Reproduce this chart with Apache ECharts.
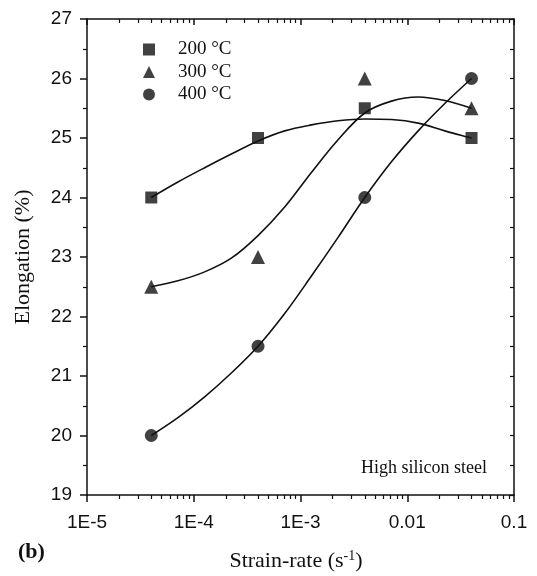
<!DOCTYPE html>
<html>
<head>
<meta charset="utf-8">
<script src="https://cdn.jsdelivr.net/npm/echarts@6/dist/echarts.min.js"></script>
<style>
  html, body { margin: 0; padding: 0; background: #fff; }
  #chart { width: 537px; height: 576px; }
</style>
</head>
<body>
<div id="chart"></div>
<script>
// ---- data ----
const strainRates = [4e-5, 4e-4, 4e-3, 4e-2];
const elong200 = [24.0, 25.0, 25.5, 25.0];
const elong300 = [22.5, 23.0, 26.0, 25.5];
const elong400 = [20.0, 21.5, 24.0, 26.0];

// fitted curves at quarter-decade steps
const fitX   = [4e-5, 7.11e-5, 1.265e-4, 2.249e-4, 4e-4, 7.11e-4, 1.265e-3, 2.249e-3, 4e-3, 7.11e-3, 1.265e-2, 2.249e-2, 4e-2];
const fit200 = [24.0, 24.26, 24.5, 24.73, 24.95, 25.12, 25.22, 25.29, 25.32, 25.31, 25.25, 25.12, 25.0];
const fit300 = [22.5, 22.6, 22.75, 22.98, 23.36, 23.84, 24.42, 24.97, 25.42, 25.62, 25.69, 25.63, 25.5];
const fit400 = [20.0, 20.3, 20.65, 21.05, 21.5, 22.05, 22.68, 23.33, 24.0, 24.6, 25.12, 25.58, 26.0];

const seriesNames = ['200 °C', '300 °C', '400 °C'];
const xMajorTicks = [1e-5, 1e-4, 1e-3, 1e-2, 1e-1];
const xTickLabels = ['1E-5', '1E-4', '1E-3', '0.01', '0.1'];
const xMinorTicks = [
  2e-5, 3e-5, 4e-5, 5e-5, 6e-5, 7e-5, 8e-5, 9e-5,
  2e-4, 3e-4, 4e-4, 5e-4, 6e-4, 7e-4, 8e-4, 9e-4,
  2e-3, 3e-3, 4e-3, 5e-3, 6e-3, 7e-3, 8e-3, 9e-3,
  2e-2, 3e-2, 4e-2, 5e-2, 6e-2, 7e-2, 8e-2, 9e-2
];
const yMin = 19, yMax = 27;

const pairs = (xs, ys) => xs.map((x, i) => [x, ys[i]]);
const INK = '#111';
const SANS = 'Liberation Sans, Arial, sans-serif';
const SERIF = 'Liberation Serif, Times New Roman, serif';

function xLabel(v) {
  for (let i = 0; i < xMajorTicks.length; i++) {
    if (Math.abs(Math.log10(v) - Math.log10(xMajorTicks[i])) < 1e-6) return xTickLabels[i];
  }
  return '';
}

const grid = { left: 87, right: 23, top: 19, bottom: 81 };
const baseLog = { type: 'log', logBase: 10, min: 1e-5, max: 0.1, gridIndex: 0, splitLine: { show: false } };

const chart = echarts.init(document.getElementById('chart'), null, { renderer: 'canvas' });
chart.setOption({
  animation: false,
  backgroundColor: '#fff',
  grid: grid,
  legend: {
    data: seriesNames,
    orient: 'vertical',
    left: 138, top: 35,
    itemWidth: 12, itemHeight: 12, itemGap: 3.5,
    textStyle: { fontFamily: SERIF, fontSize: 19, color: INK, padding: [0, 0, 0, 18] }
  },
  xAxis: [
    Object.assign({}, baseLog, {
      position: 'bottom',
      axisLine: { show: true, lineStyle: { color: INK, width: 1.5 } },
      axisTick: { show: true, inside: false, length: 7, lineStyle: { color: INK, width: 1.5 }, customValues: xMajorTicks },
      axisLabel: { show: true, customValues: xMajorTicks, formatter: xLabel, margin: 18, fontFamily: SANS, fontSize: 19, color: INK }
    }),
    Object.assign({}, baseLog, {
      position: 'bottom',
      axisLine: { show: false },
      axisTick: { show: true, inside: false, length: 4, lineStyle: { color: INK, width: 1.2 }, customValues: xMinorTicks },
      axisLabel: { show: false }
    }),
    Object.assign({}, baseLog, {
      position: 'top',
      axisLine: { show: true, lineStyle: { color: INK, width: 1.5 } },
      axisTick: { show: true, inside: true, length: 6, lineStyle: { color: INK, width: 1.5 }, customValues: xMajorTicks },
      axisLabel: { show: false }
    }),
    Object.assign({}, baseLog, {
      position: 'top',
      axisLine: { show: false },
      axisTick: { show: true, inside: true, length: 4, lineStyle: { color: INK, width: 1.2 }, customValues: xMinorTicks },
      axisLabel: { show: false }
    })
  ],
  yAxis: [
    {
      type: 'value', min: yMin, max: yMax, interval: 1, position: 'left',
      name: 'Elongation (%)', nameLocation: 'middle', nameGap: 53,
      nameTextStyle: { fontFamily: SERIF, fontSize: 22, color: INK },
      splitLine: { show: false },
      axisLine: { show: true, lineStyle: { color: INK, width: 1.5 } },
      axisTick: { show: true, inside: false, length: 7, lineStyle: { color: INK, width: 1.5 } },
      minorTick: { show: true, splitNumber: 2, length: 4, lineStyle: { color: INK, width: 1.2 } },
      axisLabel: { margin: 15, fontFamily: SANS, fontSize: 19, color: INK }
    },
    {
      type: 'value', min: yMin, max: yMax, interval: 1, position: 'right',
      splitLine: { show: false },
      axisLine: { show: true, lineStyle: { color: INK, width: 1.5 } },
      axisTick: { show: true, inside: true, length: 4, lineStyle: { color: INK, width: 1.2 } },
      minorTick: { show: true, splitNumber: 2, length: 4, lineStyle: { color: INK, width: 1.2 } },
      axisLabel: { show: false }
    }
  ],
  graphic: [
    { type: 'text', x: 296, y: 561, style: { text: 'Strain-rate (s{sup|-1})', rich: { sup: { fontSize: 14, verticalAlign: 'top', padding: [0, 0, 10, 0], fontFamily: SERIF, fill: INK } }, font: '22px ' + SERIF, fill: INK, align: 'center', verticalAlign: 'middle' } },
    { type: 'text', x: 18, y: 552, style: { text: '(b)', font: 'bold 22px ' + SERIF, fill: INK, align: 'left', verticalAlign: 'middle' } },
    { type: 'text', x: 487, y: 468, style: { text: 'High silicon steel', font: '18px ' + SERIF, fill: INK, align: 'right', verticalAlign: 'middle' } }
  ],
  series: [
    { type: 'line', name: 'fit200', data: pairs(fitX, fit200), smooth: 0.35, showSymbol: false, lineStyle: { color: INK, width: 1.6 }, silent: true, z: 1 },
    { type: 'line', name: 'fit300', data: pairs(fitX, fit300), smooth: 0.35, showSymbol: false, lineStyle: { color: INK, width: 1.6 }, silent: true, z: 1 },
    { type: 'line', name: 'fit400', data: pairs(fitX, fit400), smooth: 0.35, showSymbol: false, lineStyle: { color: INK, width: 1.6 }, silent: true, z: 1 },
    { type: 'scatter', name: seriesNames[0], data: pairs(strainRates, elong200), symbol: 'rect', symbolSize: 12, itemStyle: { color: INK }, z: 3 },
    { type: 'scatter', name: seriesNames[1], data: pairs(strainRates, elong300), symbol: 'triangle', symbolSize: 14, itemStyle: { color: INK }, z: 3 },
    { type: 'scatter', name: seriesNames[2], data: pairs(strainRates, elong400), symbol: 'circle', symbolSize: 13, itemStyle: { color: INK }, z: 3 }
  ]
});
</script>
</body>
</html>
